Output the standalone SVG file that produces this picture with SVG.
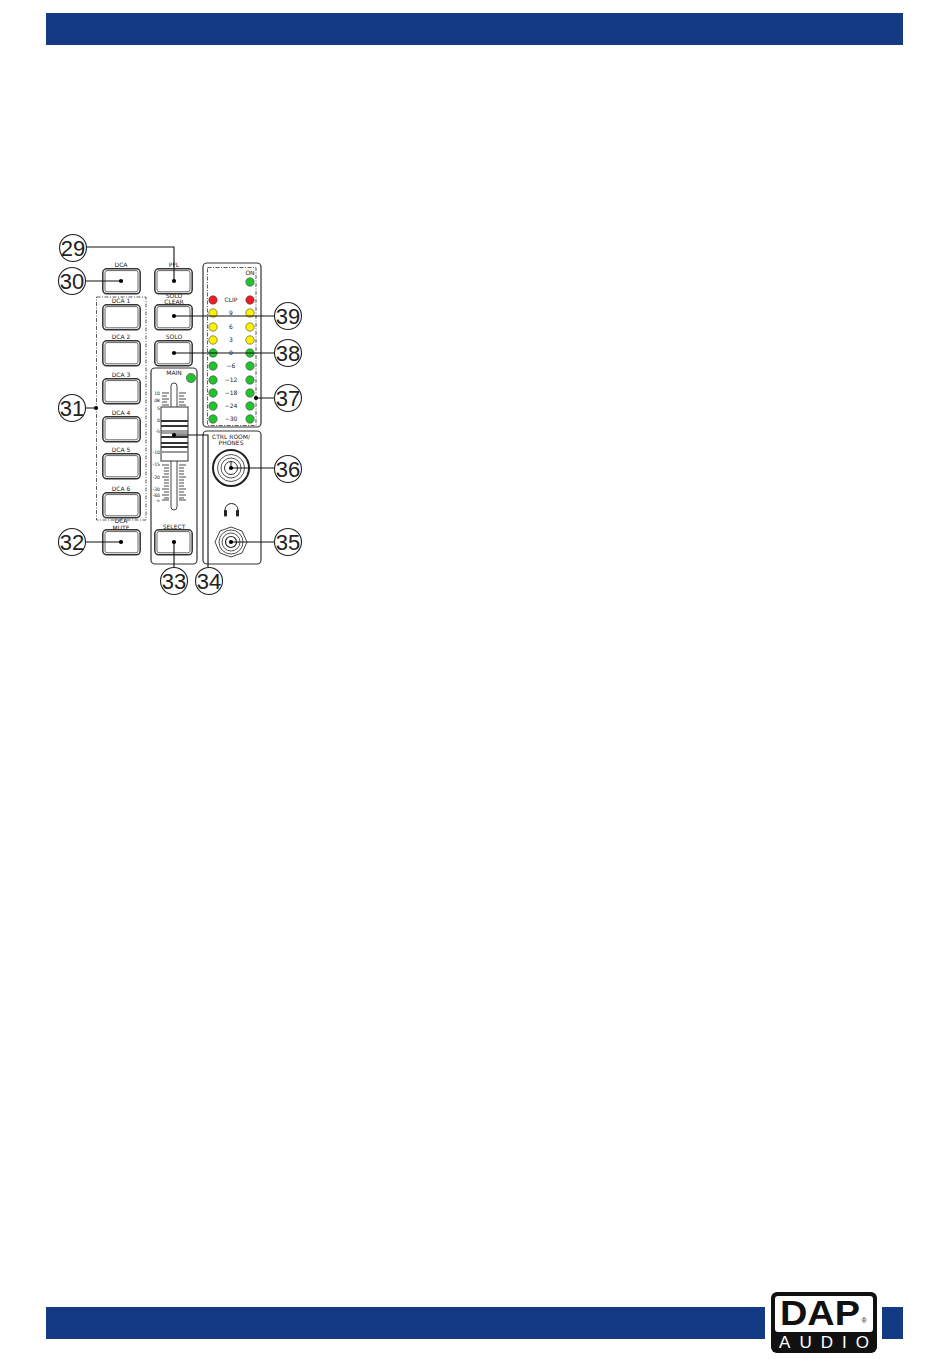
<svg xmlns="http://www.w3.org/2000/svg" width="950" height="1359" viewBox="0 0 950 1359">
<defs>
<style>
.bar{fill:#143a84}
.t{font-family:"DejaVu Sans","Liberation Sans",sans-serif;font-size:6px;fill:#222;text-anchor:middle}
.s{font-family:"DejaVu Sans","Liberation Sans",sans-serif;font-size:4.6px;fill:#222;text-anchor:end}
.n{font-family:"Liberation Sans",Arial,sans-serif;font-size:22px;fill:#222;text-anchor:middle}
.c{fill:#fff;stroke:#222;stroke-width:1.1}
.box{fill:#fff;stroke:#333;stroke-width:1.2}
.dash{fill:none;stroke:#333;stroke-width:.8;stroke-dasharray:4 1.5 1 1.5}
.line{fill:none;stroke:#111;stroke-width:1.1}
.red{fill:#ee1c25;stroke:#444;stroke-width:.6}
.yel{fill:#fff200;stroke:#444;stroke-width:.6}
.grn{fill:#22c42c;stroke:#444;stroke-width:.6}
.tick{stroke:#333;stroke-width:.9;fill:none}
</style>
<g id="btn">
<rect x="0.8" y="0.8" width="37.4" height="25" rx="4" fill="#fff" stroke="#333" stroke-width="1.5"/>
<rect x="3" y="2.6" width="33" height="21.2" rx="2" fill="#fff" stroke="#666" stroke-width="1"/>
</g>
<circle id="dot" r="2.1" fill="#000"/>
</defs>
<rect class="bar" x="46" y="13" width="857" height="32"/>
<rect class="bar" x="46" y="1307" width="719" height="32"/>
<rect class="bar" x="882" y="1307" width="21" height="32"/>
<g id="logo">
<rect x="771" y="1292" width="106" height="61" rx="6" fill="#111"/>
<rect x="775" y="1296" width="98" height="36" rx="3" fill="#fff"/>
<text x="780" y="1325" font-family="Liberation Sans,Arial,sans-serif" font-weight="700" font-size="35" fill="#111" textLength="80" lengthAdjust="spacingAndGlyphs">DAP</text>
<text x="864" y="1323" font-family="Liberation Sans,Arial,sans-serif" font-size="7" fill="#111" text-anchor="middle">®</text>
<text x="779" y="1348" font-family="Liberation Sans,Arial,sans-serif" font-size="17" fill="#fff" textLength="90" lengthAdjust="spacing">AUDIO</text>
</g>
<rect class="dash" x="96.5" y="297" width="49.5" height="223"/>
<g id="dca"><use href="#btn" x="102" y="268"/><text class="t" x="121" y="267">DCA</text></g>
<g id="pfl"><use href="#btn" x="154" y="268"/><text class="t" x="174" y="267">PFL</text></g>
<g id="dca1"><use href="#btn" x="102" y="304"/><text class="t" x="121" y="303">DCA 1</text></g>
<g id="dca2"><use href="#btn" x="102" y="340"/><text class="t" x="121" y="339">DCA 2</text></g>
<g id="dca3"><use href="#btn" x="102" y="378"/><text class="t" x="121" y="377">DCA 3</text></g>
<g id="dca4"><use href="#btn" x="102" y="416"/><text class="t" x="121" y="415">DCA 4</text></g>
<g id="dca5"><use href="#btn" x="102" y="453"/><text class="t" x="121" y="452">DCA 5</text></g>
<g id="dca6"><use href="#btn" x="102" y="492"/><text class="t" x="121" y="491">DCA 6</text></g>
<g id="dcamute"><use href="#btn" x="102" y="529"/><text class="t" x="121" y="523">DCA</text><text class="t" x="121" y="529.5">MUTE</text></g>
<g id="soloclear"><use href="#btn" x="154" y="304"/><text class="t" x="174" y="297.5">SOLO</text><text class="t" x="174" y="303.5">CLEAR</text></g>
<g id="solo"><use href="#btn" x="154" y="340"/><text class="t" x="174" y="339">SOLO</text></g>
<g id="main">
<rect class="box" x="151" y="368" width="46" height="196" rx="4"/>
<text class="t" x="174" y="374.5">MAIN</text>
<circle class="grn" cx="191" cy="378" r="4.6"/>
<rect x="171" y="383" width="6" height="127" rx="3" fill="#fff" stroke="#444" stroke-width="1"/>
<path class="tick" d="M162 393h7M162 396h5M162 399h7M162 402h5M162 405h7M179 393h7M179 396h5M179 399h7M179 402h5M179 405h7M162 465h7M164 468h5M164 471h5M164 474h5M162 477h7M164 480h5M164 483h5M164 486h5M162 489h7M164 492h5M162 495h7M164 498h5M162 500h7M179 465h7M179 468h5M179 471h5M179 474h5M179 477h7M179 480h5M179 483h5M179 486h5M179 489h7M179 492h5M179 495h7M179 498h5M179 500h7"/>
<text class="s" x="160" y="395">10</text><text class="s" x="160" y="402">dB</text><text class="s" x="160" y="410">5</text><text class="s" x="160" y="422">0</text><text class="s" x="160" y="433">-5</text><text class="s" x="160" y="454">-10</text><text class="s" x="160" y="466">-15</text><text class="s" x="160" y="479">-20</text><text class="s" x="160" y="491">-30</text><text class="s" x="160" y="497">-60</text><text class="s" x="160" y="502">∞</text>
<rect x="161" y="407" width="27" height="54" fill="#fff" stroke="#333" stroke-width="1"/>
<path d="M161 421h27M161 426h27M161 437h27M161 443h27M161 447h27" stroke="#333" stroke-width="2.2" fill="none"/>
<path d="M161 431h27M161 433h27" stroke="#444" stroke-width="1" fill="none"/>
<path d="M161 452h27" stroke="#999" stroke-width="2" fill="none"/>
</g>
<g id="select"><use href="#btn" x="154" y="529"/><text class="t" x="174" y="529">SELECT</text></g>
<g id="meter">
<rect class="box" x="203" y="263" width="58" height="164" rx="4"/>
<rect class="dash" x="207.5" y="267.5" width="48.5" height="158"/>
<text class="t" x="250" y="274.5">ON</text>
<circle class="grn" cx="250" cy="282" r="4.2"/>
<circle class="red" cx="213" cy="300" r="4.2"/><circle class="red" cx="250" cy="300" r="4.2"/>
<circle class="yel" cx="213" cy="313" r="4.2"/><circle class="yel" cx="250" cy="313" r="4.2"/>
<circle class="yel" cx="213" cy="327" r="4.2"/><circle class="yel" cx="250" cy="327" r="4.2"/>
<circle class="yel" cx="213" cy="340" r="4.2"/><circle class="yel" cx="250" cy="340" r="4.2"/>
<circle class="grn" cx="213" cy="353" r="4.2"/><circle class="grn" cx="250" cy="353" r="4.2"/>
<circle class="grn" cx="213" cy="366" r="4.2"/><circle class="grn" cx="250" cy="366" r="4.2"/>
<circle class="grn" cx="213" cy="380" r="4.2"/><circle class="grn" cx="250" cy="380" r="4.2"/>
<circle class="grn" cx="213" cy="393" r="4.2"/><circle class="grn" cx="250" cy="393" r="4.2"/>
<circle class="grn" cx="213" cy="406" r="4.2"/><circle class="grn" cx="250" cy="406" r="4.2"/>
<circle class="grn" cx="213" cy="419" r="4.2"/><circle class="grn" cx="250" cy="419" r="4.2"/>
<text class="t" x="231" y="302">CLIP</text><text class="t" x="231" y="315">9</text><text class="t" x="231" y="329">6</text><text class="t" x="231" y="342">3</text><text class="t" x="231" y="355">0</text><text class="t" x="231" y="368">−6</text><text class="t" x="231" y="382">−12</text><text class="t" x="231" y="395">−18</text><text class="t" x="231" y="408">−24</text><text class="t" x="231" y="421">−30</text>
</g>
<g id="ctrl">
<rect class="box" x="203" y="431" width="58" height="133" rx="4"/>
<text class="t" x="231" y="438.5">CTRL ROOM/</text><text class="t" x="231" y="444.5">PHONES</text>
<circle cx="231" cy="468" r="18" fill="none" stroke="#222" stroke-width="2"/>
<circle cx="231" cy="468" r="13.5" fill="none" stroke="#555" stroke-width="1"/>
<circle cx="231" cy="468" r="10" fill="none" stroke="#555" stroke-width="1"/>
<circle cx="231" cy="468" r="6.5" fill="none" stroke="#333" stroke-width="1"/>
<path d="M231 468v-7" stroke="#222" stroke-width="1"/>
<path d="M225 515v-5a6.500 6.500 0 0 1 13 0v5" fill="none" stroke="#222" stroke-width="1"/>
<rect x="224" y="510" width="3" height="6.500" rx="1" fill="#222"/><rect x="236" y="510" width="3" height="6.500" rx="1" fill="#222"/>
<path d="M231 527l11 4 5 11-5 11-11 4-11-4-5-11 5-11z" fill="none" stroke="#444" stroke-width="1"/>
<circle cx="231" cy="542" r="12" fill="none" stroke="#555" stroke-width="1"/>
<circle cx="231" cy="542" r="9" fill="none" stroke="#555" stroke-width="1"/>
<circle cx="231" cy="542" r="5.500" fill="none" stroke="#222" stroke-width="1.200"/>
</g>
<g id="connectors">
<path class="line" d="M86 247H174V281M86 281H121M86 408H96M86 542H121M174 567V542M174 435H208V567M231 542H274M231 468H274M256 398H274M174 353H274M174 316H274"/>
<use href="#dot" x="174" y="281"/><use href="#dot" x="121" y="281"/><use href="#dot" x="96" y="408"/><use href="#dot" x="121" y="542"/><use href="#dot" x="174" y="542"/><use href="#dot" x="174" y="435"/><use href="#dot" x="231" y="542"/><use href="#dot" x="231" y="468"/><use href="#dot" x="256" y="398"/><use href="#dot" x="174" y="353"/><use href="#dot" x="174" y="316"/>
</g>
<g id="n29"><circle class="c" cx="73" cy="248" r="13.500"/><text class="n" x="73" y="256">29</text></g>
<g id="n30"><circle class="c" cx="72" cy="281" r="13.500"/><text class="n" x="72" y="289">30</text></g>
<g id="n31"><circle class="c" cx="72" cy="408" r="13.500"/><text class="n" x="72" y="416">31</text></g>
<g id="n32"><circle class="c" cx="72" cy="542" r="13.500"/><text class="n" x="72" y="550">32</text></g>
<g id="n33"><circle class="c" cx="174" cy="581" r="13.500"/><text class="n" x="174" y="589">33</text></g>
<g id="n34"><circle class="c" cx="209" cy="581" r="13.500"/><text class="n" x="209" y="589">34</text></g>
<g id="n35"><circle class="c" cx="288" cy="542" r="13.500"/><text class="n" x="288" y="550">35</text></g>
<g id="n36"><circle class="c" cx="288" cy="469" r="13.500"/><text class="n" x="288" y="477">36</text></g>
<g id="n37"><circle class="c" cx="288" cy="398" r="13.500"/><text class="n" x="288" y="406">37</text></g>
<g id="n38"><circle class="c" cx="288" cy="353" r="13.500"/><text class="n" x="288" y="361">38</text></g>
<g id="n39"><circle class="c" cx="288" cy="316" r="13.500"/><text class="n" x="288" y="324">39</text></g>
</svg>
